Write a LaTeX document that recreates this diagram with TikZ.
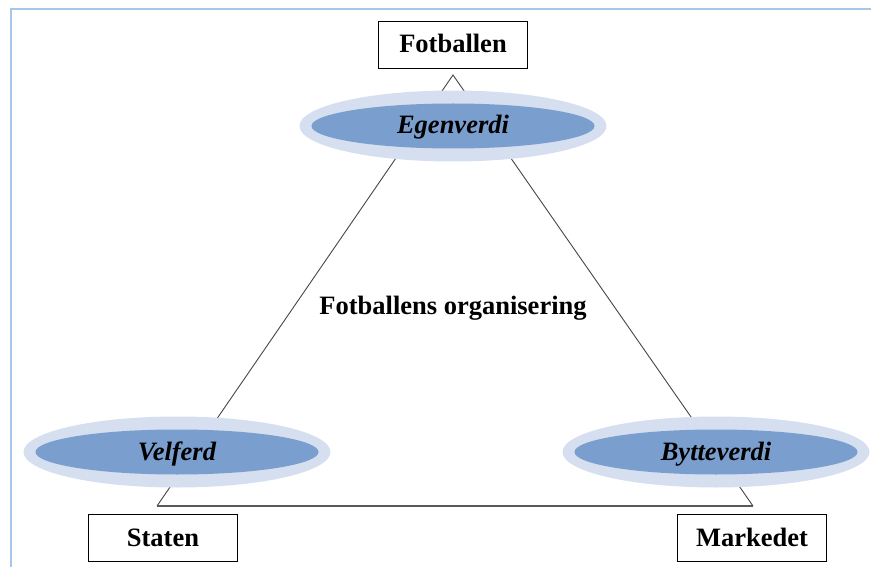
\documentclass[tikz,border=0pt]{standalone}
\usepackage{fontspec}
\setmainfont{Liberation Serif}
\usetikzlibrary{shapes.geometric}
\definecolor{frameblue}{RGB}{168,198,234}
\definecolor{ringblue}{RGB}{213,223,239}
\definecolor{coreblue}{RGB}{122,158,205}
\definecolor{edgegray}{RGB}{70,70,70}
\tikzset{
  lbl/.style={font=\fontsize{26.5}{30}\selectfont\bfseries, text height=18pt, text depth=2pt},
  boxnode/.style={draw=black, line width=1pt, fill=white, minimum width=149pt, minimum height=47pt, inner sep=0pt, lbl},
  ringnode/.style={ellipse, fill=ringblue, minimum width=307pt, minimum height=71pt, inner sep=0pt},
  corenode/.style={ellipse, fill=coreblue, minimum width=283pt, minimum height=45pt, inner sep=0pt, font=\fontsize{26.5}{30}\selectfont\bfseries\itshape, text height=18pt, text depth=2pt},
  edge/.style={draw=edgegray, line width=0.9pt},
  base/.style={draw=gray!70!black, line width=2.4pt}
}
\begin{document}
\begin{tikzpicture}[x=1pt,y=-1pt]
\useasboundingbox (0,0) rectangle (871,567);
% frame
\draw[frameblue, line width=2.2pt] (11,567) -- (11,9) -- (871,9);
% triangle
\coordinate (apex) at (453,75);
\coordinate (bl) at (157,506);
\coordinate (br) at (753,506);
\draw[edge] (bl) -- (apex) -- (br);
\draw[base] (bl) -- (br);
% boxes
\node[boxnode] (fotballen) at (453,45) {Fotballen};
\node[boxnode] (staten) at (163,538) {Staten};
\node[boxnode] (markedet) at (752,538) {Markedet};
% ellipses
\node[ringnode] (egenring) at (453,126) {};
\node[corenode] (egenverdi) at (egenring.center) {Egenverdi};
\node[ringnode] (velring) at (177,452) {};
\node[corenode] (velferd) at (velring.center) {Velferd};
\node[ringnode] (bytring) at (716,452) {};
\node[corenode] (bytteverdi) at (bytring.center) {Bytteverdi};
% centre label
\node[lbl] (org) at (453,306) {Fotballens organisering};
\end{tikzpicture}
\end{document}
